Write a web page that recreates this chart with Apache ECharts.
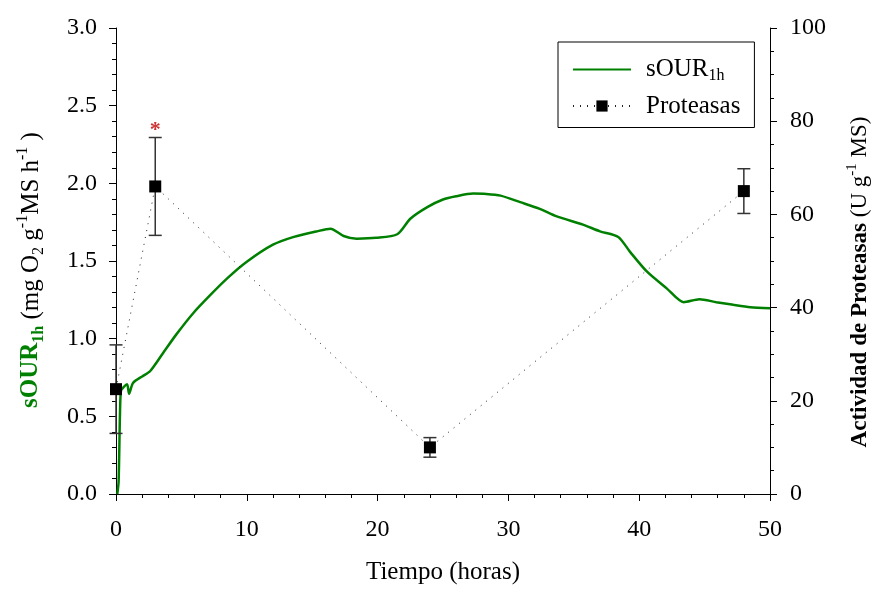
<!DOCTYPE html>
<html>
<head>
<meta charset="utf-8">
<script src="https://cdn.jsdelivr.net/npm/echarts@6/dist/echarts.min.js"></script>
<style>
  html, body { margin: 0; padding: 0; background: #fff; }
  #chart { width: 876px; height: 590px; }
</style>
</head>
<body>
<div id="chart"></div>
<script>
// sOUR1h (mg O2 g-1 MS h-1), [hours, value]
const sourHours = [0.1, 0.2, 0.3, 0.38, 0.6, 0.85, 1.0, 1.3, 2.0, 2.6, 3.6, 4.6, 5.9, 7.2, 8.5, 10.0, 12.0, 13.6, 15.3, 16.4, 17.4, 18.4, 19.9, 21.5, 22.5, 23.8, 25.0, 26.0, 27.3, 28.3, 29.4, 30.9, 32.4, 33.7, 35.7, 37.0, 38.4, 39.3, 40.6, 42.1, 43.4, 44.6, 45.9, 47.2, 48.5, 50.0];
const sourValues = [0.0, 0.08, 0.5, 0.665, 0.69, 0.706, 0.646, 0.715, 0.757, 0.79, 0.908, 1.026, 1.164, 1.28, 1.388, 1.495, 1.605, 1.655, 1.69, 1.708, 1.661, 1.644, 1.649, 1.672, 1.772, 1.847, 1.896, 1.917, 1.934, 1.932, 1.921, 1.879, 1.836, 1.787, 1.734, 1.691, 1.655, 1.559, 1.431, 1.324, 1.235, 1.254, 1.235, 1.218, 1.203, 1.196];

// Proteasas (U g-1 MS)
const protHours = [0, 3, 24, 48];
const protValues = [22.5, 66.0, 10.0, 65.0];
const protErrors = [9.5, 10.5, 2.1, 4.8];
const starIndex = 1;

const leftTicks = { min: 0, max: 3, interval: 0.5 };
const rightTicks = { min: 0, max: 100, interval: 20 };
const xTicks = { min: 0, max: 50, interval: 10 };

const GREEN = '#008000';
const FONT = '"Liberation Serif", "DejaVu Serif", serif';

const sourData = sourHours.map((h, i) => [h, sourValues[i]]);
const protData = protHours.map((h, i) => [h, protValues[i]]);
const errData = protHours.map((h, i) => [h, protValues[i] - protErrors[i], protValues[i] + protErrors[i]]);

const chart = echarts.init(document.getElementById('chart'));

const axisCommon = {
  axisLine: { show: true, lineStyle: { color: '#000', width: 1 } },
  axisTick: { show: true, inside: false, length: 7, lineStyle: { color: '#000' } },
  splitLine: { show: false }
};
const tickFont = { color: '#000', fontFamily: FONT, fontSize: 24 };

chart.setOption({
  backgroundColor: '#fff',
  animation: false,
  grid: { left: 116, right: 106, top: 28, bottom: 93 },
  legend: {
    data: [
      { name: 'sOUR', itemStyle: { opacity: 0 } },
      { name: 'Proteasas' }
    ],
    orient: 'vertical',
    left: 558,
    top: 42,
    padding: [15, 14, 9, 14],
    itemWidth: 58,
    itemHeight: 14,
    itemGap: 10,
    borderColor: '#000',
    borderWidth: 1,
    borderRadius: 0,
    backgroundColor: '#fff',
    formatter: name => name === 'sOUR' ? '{m|sOUR}{s|1h}' : '{m|Proteasas}',
    textStyle: {
      color: '#000',
      fontFamily: FONT,
      fontSize: 25,
      padding: [0, 0, 0, 10],
      rich: {
        m: { fontFamily: FONT, fontSize: 25, color: '#000', lineHeight: 28 },
        s: { fontFamily: FONT, fontSize: 16, color: '#000', lineHeight: 12, verticalAlign: 'bottom' }
      }
    }
  },
  xAxis: Object.assign({}, axisCommon, {
    type: 'value',
    min: xTicks.min, max: xTicks.max, interval: xTicks.interval,
    minorTick: { show: true, splitNumber: 5, length: 4, lineStyle: { color: '#000' } },
    axisLabel: Object.assign({ margin: 24 }, tickFont),
    name: 'Tiempo (horas)',
    nameLocation: 'middle',
    nameGap: 66,
    nameTextStyle: { color: '#000', fontFamily: FONT, fontSize: 25 }
  }),
  yAxis: [
    Object.assign({}, axisCommon, {
      type: 'value',
      position: 'left',
      min: leftTicks.min, max: leftTicks.max, interval: leftTicks.interval,
      minorTick: { show: true, splitNumber: 5, length: 4, lineStyle: { color: '#000' } },
      axisLabel: Object.assign({ margin: 19, formatter: v => v.toFixed(1) }, tickFont)
    }),
    Object.assign({}, axisCommon, {
      type: 'value',
      position: 'right',
      min: rightTicks.min, max: rightTicks.max, interval: rightTicks.interval,
      minorTick: { show: true, splitNumber: 4, length: 4, lineStyle: { color: '#000' } },
      axisLabel: Object.assign({ margin: 20 }, tickFont)
    })
  ],
  graphic: [
    {
      type: 'text',
      x: 31, y: 270,
      rotation: Math.PI / 2,
      style: {
        text: '{g|sOUR}{gs|1h}{n| (mg O}{sub|2}{n| g}{sup|-1}{n|MS h}{sup|-1}{n| )}',
        align: 'center',
        verticalAlign: 'middle',
        rich: {
          g: { fontFamily: FONT, fontSize: 25, fontWeight: 'bold', fill: GREEN, lineHeight: 32 },
          gs: { fontFamily: FONT, fontSize: 16, fontWeight: 'bold', fill: GREEN, lineHeight: 16, verticalAlign: 'bottom' },
          n: { fontFamily: FONT, fontSize: 25, fill: '#000', lineHeight: 32 },
          sub: { fontFamily: FONT, fontSize: 16, fill: '#000', lineHeight: 16, verticalAlign: 'bottom' },
          sup: { fontFamily: FONT, fontSize: 16, fill: '#000', lineHeight: 16, verticalAlign: 'top' }
        }
      }
    },
    {
      type: 'text',
      x: 860, y: 282,
      rotation: Math.PI / 2,
      style: {
        text: '{b|Actividad de Proteasas}{n| (U g}{sup|-1}{n| MS)}',
        align: 'center',
        verticalAlign: 'middle',
        rich: {
          b: { fontFamily: FONT, fontSize: 23, fontWeight: 'bold', fill: '#000', lineHeight: 30 },
          n: { fontFamily: FONT, fontSize: 23, fill: '#000', lineHeight: 30 },
          sup: { fontFamily: FONT, fontSize: 15, fill: '#000', lineHeight: 15, verticalAlign: 'top' }
        }
      }
    }
  ],
  series: [
    {
      name: 'sOUR',
      type: 'line',
      yAxisIndex: 0,
      data: sourData,
      showSymbol: false,
      symbol: 'none',
      smooth: 0.25,
      lineStyle: { color: GREEN, width: 2.5 },
      itemStyle: { color: GREEN },
      z: 3
    },
    {
      name: 'ErrorBars',
      type: 'custom',
      yAxisIndex: 1,
      data: errData,
      clip: false,
      z: 4,
      renderItem: (params, api) => {
        const x = api.value(0);
        const lo = api.coord([x, api.value(1)]);
        const hi = api.coord([x, api.value(2)]);
        const half = 6.5;
        const style = { stroke: '#333', lineWidth: 1.5 };
        return {
          type: 'group',
          children: [
            { type: 'line', shape: { x1: lo[0], y1: lo[1], x2: hi[0], y2: hi[1] }, style },
            { type: 'line', shape: { x1: lo[0] - half, y1: lo[1], x2: lo[0] + half, y2: lo[1] }, style },
            { type: 'line', shape: { x1: hi[0] - half, y1: hi[1], x2: hi[0] + half, y2: hi[1] }, style }
          ]
        };
      }
    },
    {
      name: 'Proteasas',
      type: 'line',
      yAxisIndex: 1,
      data: protData,
      symbol: 'rect',
      symbolSize: 12,
      showAllSymbol: true,
      lineStyle: { color: '#222', width: 1, type: [1, 6] },
      itemStyle: { color: '#000' },
      z: 5
    },
    {
      name: 'Significance',
      type: 'scatter',
      yAxisIndex: 1,
      data: [[protHours[starIndex], protValues[starIndex] + protErrors[starIndex]]],
      symbolSize: 0,
      label: {
        show: true,
        position: 'top',
        distance: 0,
        offset: [0, 4],
        formatter: '*',
        color: '#c00000',
        fontFamily: FONT,
        fontSize: 22,
        fontWeight: 'bold'
      },
      z: 6
    }
  ]
});
</script>
</body>
</html>
